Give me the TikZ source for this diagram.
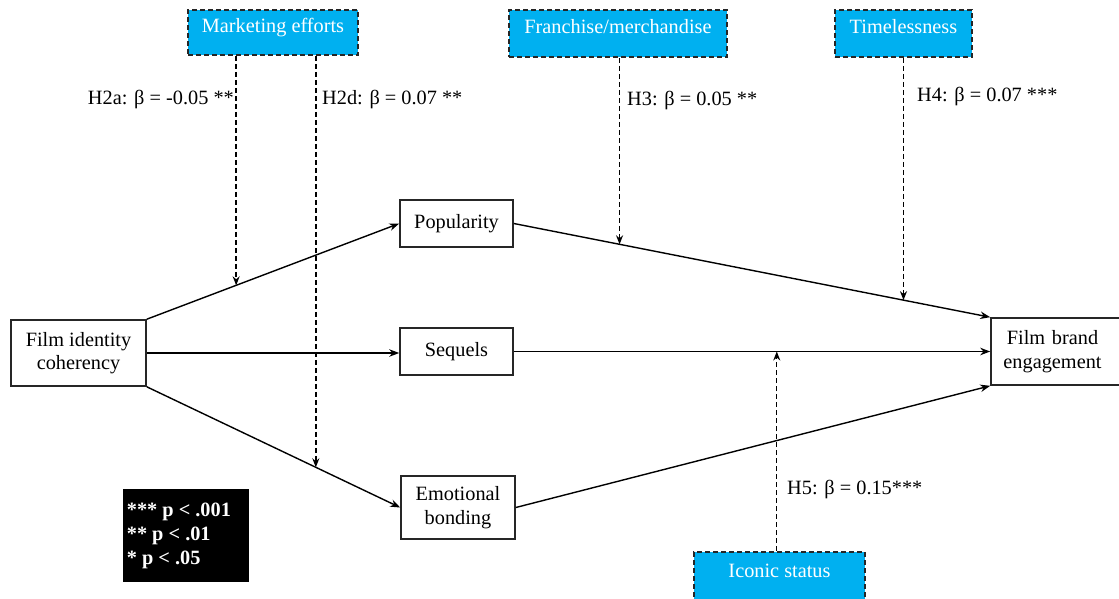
\documentclass[tikz,border=0pt]{standalone}
\usepackage{fontspec}
\setmainfont{Liberation Serif}
\usetikzlibrary{arrows.meta}
\definecolor{cyanbox}{HTML}{00B0F0}
\begin{document}
\begin{tikzpicture}[x=1pt,y=-1pt,
  every node/.style={font=\fontsize{20.3}{23.5}\selectfont},
  modbox/.style={draw=black!85, fill=cyanbox, text=white, dash pattern=on 5pt off 3pt, line width=1.6pt, inner sep=0pt, text height=14pt, text depth=14pt},
  varbox/.style={draw=black!85, fill=white, line width=1.6pt, inner sep=0pt, align=center},
  arr/.style={line width=1.4pt, -{Stealth[length=10pt,width=7.5pt]}},
  darr/.style={line width=1.4pt, dash pattern=on 5pt off 3pt, -{Stealth[length=9pt,width=7pt]}},
  lbl/.style={inner sep=0pt}]
\useasboundingbox (0,0) rectangle (1119,598);
% moderators
\node[modbox, minimum width=170pt, minimum height=45pt] (mkt) at (273,32.5) {Marketing efforts};
\node[modbox, minimum width=218pt, minimum height=47pt] (fra) at (618,33.5) {Franchise/merchandise};
\node[modbox, minimum width=137pt, minimum height=47pt] (tim) at (903.5,33.5) {Timelessness};
\node[modbox, minimum width=171pt, minimum height=50pt] (ico) at (779.5,577) {Iconic status};
% variables
\node[varbox, minimum width=135pt, minimum height=66pt] (fic) at (78.5,353) {Film identity\\coherency};
\node[varbox, minimum width=113pt, minimum height=47pt] (pop) at (456.5,223.5) {Popularity};
\node[varbox, minimum width=113pt, minimum height=47pt] (seq) at (456.5,351.5) {Sequels};
\node[varbox, minimum width=114pt, minimum height=63pt] (emo) at (458,507.5) {Emotional\\bonding};
\node[varbox, minimum width=129pt, minimum height=67pt, text width=129pt] (fbe) at (1055.5,351.5) {\hspace*{-6pt}Film brand\\\hspace*{-6pt}engagement};
% legend
\node[fill=black, text=white, minimum width=126pt, minimum height=93pt, align=left, inner sep=0pt, font=\fontsize{20.3}{24}\selectfont\bfseries] (leg) at (186,535.5) {*** p < .001\\** p < .01\\* p < .05\hspace*{2.2em}};
% paths
\draw[arr] (fic.north east) -- coordinate[pos=0.354] (m1) (pop.west);
\draw[arr] (fic.east) -- (fic.east -| seq.west);
\draw[arr] (fic.south east) -- coordinate[pos=0.667] (m2) (emo.west);
\draw[arr] (pop.east) -- coordinate[pos=0.222] (m3) coordinate[pos=0.818] (m4) (fbe.north west);
\draw[arr] (seq.east) -- coordinate[pos=0.552] (m5) (fbe.west);
\draw[arr] (emo.east) -- (fbe.south west);
% moderation arrows
\draw[darr] (mkt.south -| m1) -- (m1);
\draw[darr] (mkt.south -| m2) -- (m2);
\draw[darr] (fra.south -| m3) -- (m3);
\draw[darr] (tim.south -| m4) -- (m4);
\draw[darr] (ico.north -| m5) -- (m5);
% labels
\node[lbl, anchor=east] (l2a) at (234,100) {H2a: β = -0.05 **};
\node[lbl, anchor=west] (l2d) at (322,100) {H2d: β = 0.07 **};
\node[lbl, anchor=west] (l3) at (627,101) {H3: β = 0.05 **};
\node[lbl, anchor=west] (l4) at (917,97) {H4: β = 0.07 ***};
\node[lbl, anchor=west] (l5) at (787,490) {H5: β = 0.15***};
\end{tikzpicture}
\end{document}
